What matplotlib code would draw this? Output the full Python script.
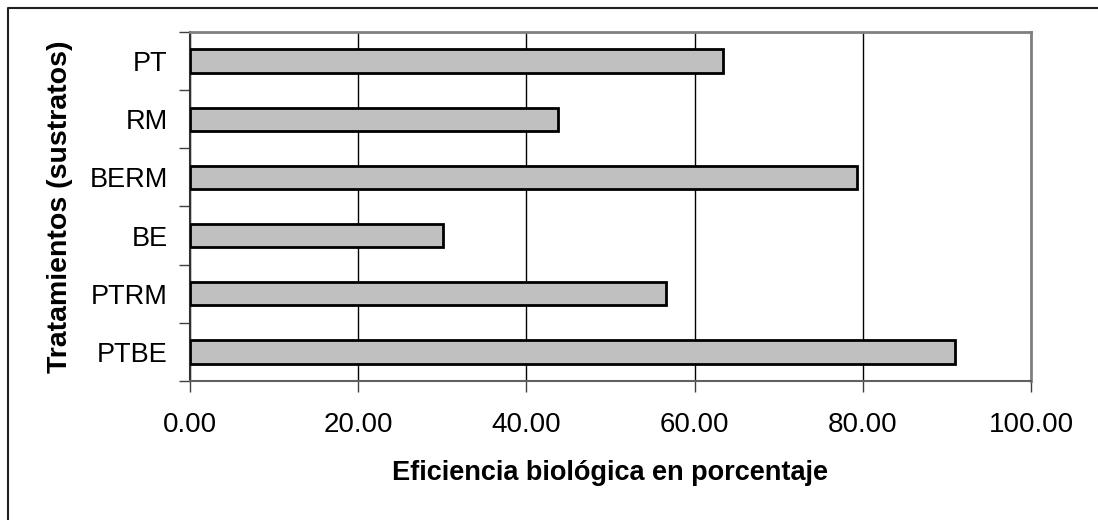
import matplotlib
matplotlib.use("Agg")
import matplotlib.pyplot as plt
from matplotlib.lines import Line2D

categories = ["PTBE", "PTRM", "BE", "BERM", "RM", "PT"]
values = [91.0, 56.6, 30.1, 79.3, 43.8, 63.4]
xticks = [0, 20, 40, 60, 80, 100]
xticklabels = ["0.00", "20.00", "40.00", "60.00", "80.00", "100.00"]

plt.rcParams['font.family'] = ['Liberation Sans', 'DejaVu Sans']

fig = plt.figure(figsize=(10.98, 5.20), dpi=100)
ax = fig.add_axes([190/1098, 1 - 381/520, (1031-190)/1098, (381-32)/520])

ypos = list(range(len(categories)))
ax.barh(ypos, values, height=0.4, color="#C0C0C0", edgecolor="black", linewidth=2, zorder=3)

ax.set_xlim(0, 100)
ax.set_ylim(-0.5, len(categories) - 0.5)
ax.set_xticks(xticks)
ax.set_xticklabels(xticklabels, fontsize=20)
ax.set_yticks(ypos)
ax.set_yticklabels(categories, fontsize=19.5)
ax.tick_params(axis='y', length=0, pad=16)
ax.set_yticks([i - 0.5 for i in range(len(categories) + 1)], minor=True)
ax.tick_params(axis='y', which='minor', length=8, width=1, color='#404040', direction='out')
ax.tick_params(axis='x', length=8, width=1, color='#404040', direction='out', pad=14)

ax.grid(axis='x', color='black', linewidth=1, zorder=0)
ax.set_axisbelow(True)

for s in ['top', 'right']:
    ax.spines[s].set_color('#808080')
    ax.spines[s].set_linewidth(2)
ax.spines['left'].set_color('#303030')
ax.spines['left'].set_linewidth(1.5)
ax.spines['bottom'].set_color('#606060')
ax.spines['bottom'].set_linewidth(1.5)

ax.set_xlabel("Eficiencia biológica en porcentaje", fontsize=19.5, fontweight='bold', labelpad=16)
ax.set_ylabel("Tratamientos (sustratos)", fontsize=20.5, fontweight='bold', labelpad=12)

# outer chart border (only left and top edges visible in the reference)
fig.add_artist(Line2D([8/1098, 8/1098, 1.0], [0.0, 1 - 8/520, 1 - 8/520],
                      transform=fig.transFigure, color='#202020', linewidth=1.5))

fig.savefig("out.png", dpi=100)
